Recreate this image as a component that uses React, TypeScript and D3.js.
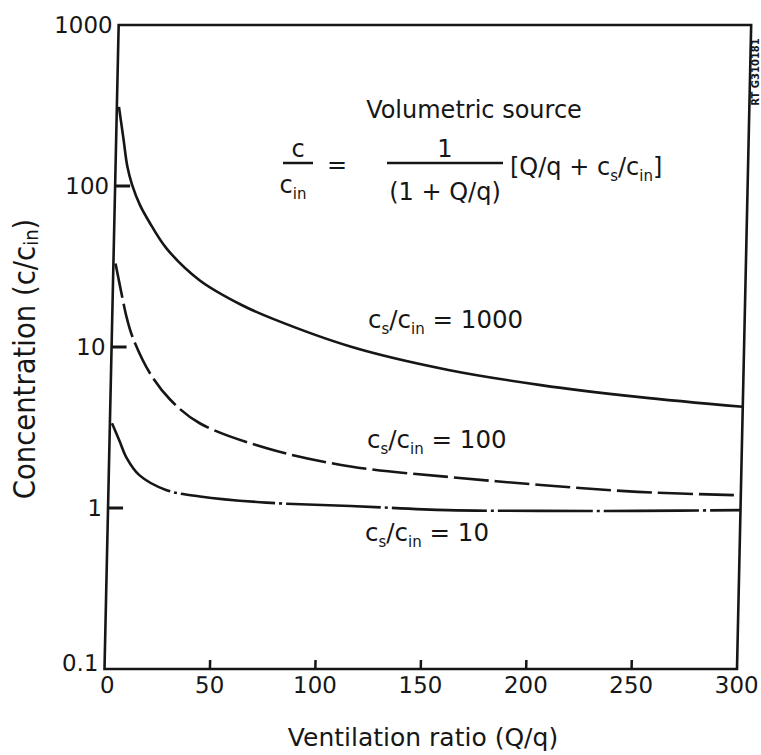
import React from "react";
import * as d3 from "d3";

// ---- data ----
const xTicks = [0, 50, 100, 150, 200, 250, 300];
const xTickLabels = ["0", "50", "100", "150", "200", "250", "300"];
const yTicks = [0.1, 1, 10, 100, 1000];
const yTickLabels = ["0.1", "1", "10", "100", "1000"];

// c_s/c_in = 1000 (solid)
const qq1000 = [1, 3.5, 5.6, 8, 12, 16.5, 25, 41, 61, 76, 114, 160, 204, 250, 300];
const c1000 = [310, 195, 132, 102, 76, 60, 41, 26, 18.3, 15.0, 10, 7.2, 5.8, 4.9, 4.25];
// c_s/c_in = 100 (dashed)
const qq100 = [1, 4.5, 7, 10, 18.4, 28.4, 42.6, 74.7, 114.6, 161, 205, 251, 300];
const c100 = [33, 20.5, 15, 11.4, 6.9, 4.7, 3.36, 2.35, 1.81, 1.56, 1.39, 1.26, 1.2];
// c_s/c_in = 10 (dash-dot)
const qq10 = [1, 4.8, 8, 14.5, 27.6, 43.5, 75, 115, 161, 205, 251, 300];
const c10 = [3.36, 2.6, 2.08, 1.6, 1.29, 1.18, 1.08, 1.03, 0.97, 0.96, 0.96, 0.97];

const FONT = "DejaVu Sans, Liberation Sans, sans-serif";
const INK = "#161616";

export default function App() {
  const W = 761;
  const H = 755;
  const left = 104.5;
  const right = 737;
  const top = 25;
  const bottom = 669;

  const x = d3.scaleLinear().domain([0, 300]).range([left, right]);
  const y = d3.scaleLog().domain([0.1, 1000]).range([bottom, top]);

  const line = d3
    .line<[number, number]>()
    .x((d) => x(d[0]))
    .y((d) => y(d[1]))
    .curve(d3.curveCatmullRom.alpha(0.5));

  const toPts = (a: number[], b: number[]) => a.map((v, i) => [v, b[i]] as [number, number]);

  const skew = `translate(0,${bottom}) skewX(-1.26) translate(0,${-bottom})`;

  return (
    <svg
      width={W}
      height={H}
      viewBox={`0 0 ${W} ${H}`}
      style={{ position: "absolute", left: 0, top: 0, background: "#fff" }}
      fontFamily={FONT}
    >
      <rect x={0} y={0} width={W} height={H} fill="#fff" />
      <g transform={skew}>
        {/* curves */}
        <path d={line(toPts(qq1000, c1000)) || ""} fill="none" stroke={INK} strokeWidth={2.6} />
        <path
          d={line(toPts(qq100, c100)) || ""}
          fill="none"
          stroke={INK}
          strokeWidth={2.6}
          strokeDasharray="35 6"
        />
        <path
          d={line(toPts(qq10, c10)) || ""}
          fill="none"
          stroke={INK}
          strokeWidth={2.6}
          strokeDasharray="95 4 3 4"
        />

        {/* frame */}
        <rect x={left} y={top} width={right - left} height={bottom - top} fill="none" stroke={INK} strokeWidth={2.6} />

        {/* y ticks */}
        {yTicks.map((t, i) => (
          <g key={"y" + i}>
            {t > 0.1 && t < 1000 && (
              <line x1={left} x2={left + 15} y1={y(t)} y2={y(t)} stroke={INK} strokeWidth={3} />
            )}
            <text
              x={left - 6}
              y={y(t) + 8.3 - (t === 0.1 ? 6 : 0)}
              textAnchor="end"
              fontSize={23}
              fill={INK}
            >
              {yTickLabels[i]}
            </text>
          </g>
        ))}

        {/* x ticks */}
        {xTicks.map((t, i) => (
          <g key={"x" + i}>
            {t > 0 && t < 300 && (
              <line x1={x(t)} x2={x(t)} y1={bottom} y2={bottom - 9} stroke={INK} strokeWidth={2.5} />
            )}
            <text x={x(t) + (t === 0 ? 3 : 0)} y={693} textAnchor="middle" fontSize={23} fill={INK}>
              {xTickLabels[i]}
            </text>
          </g>
        ))}
      </g>

      {/* axis titles */}
      <text x={423} y={746} textAnchor="middle" fontSize={25} fill={INK}>
        Ventilation ratio (Q/q)
      </text>
      <text
        transform="translate(25,359) rotate(-90) scale(1,1.08)"
        textAnchor="middle"
        dominantBaseline="central"
        fontSize={27.5}
        fill={INK}
      >
        Concentration (c/c<tspan dy={5} fontSize={18}>in</tspan>
        <tspan dy={-5}>)</tspan>
      </text>

      {/* annotation: formula */}
      <text x={474} y={118} textAnchor="middle" fontSize={24} fill={INK}>
        Volumetric source
      </text>
      <text x={298} y={157} textAnchor="middle" fontSize={24} fill={INK}>c</text>
      <line x1={283} x2={313} y1={163} y2={163} stroke={INK} strokeWidth={2.5} />
      <text x={293} y={193} textAnchor="middle" fontSize={24} fill={INK}>
        c<tspan dy={6} fontSize={15}>in</tspan>
      </text>
      <text x={337} y={173} textAnchor="middle" fontSize={24} fill={INK}>=</text>
      <text x={445} y={157} textAnchor="middle" fontSize={24} fill={INK}>1</text>
      <line x1={387} x2={503} y1={163} y2={163} stroke={INK} strokeWidth={2.5} />
      <text x={445} y={200} textAnchor="middle" fontSize={24} fill={INK}>(1 + Q/q)</text>
      <text x={510} y={175} fontSize={24} fill={INK}>
        [Q/q + c<tspan dy={6} fontSize={15}>s</tspan>
        <tspan dy={-6}>/c</tspan>
        <tspan dy={6} fontSize={15}>in</tspan>
        <tspan dy={-6}>]</tspan>
      </text>

      {/* curve labels */}
      <text x={368} y={328} fontSize={24.5} fill={INK}>
        c<tspan dy={6} fontSize={15}>s</tspan>
        <tspan dy={-6}>/c</tspan>
        <tspan dy={6} fontSize={15}>in</tspan>
        <tspan dy={-6}> = 1000</tspan>
      </text>
      <text x={367} y={448} fontSize={24.5} fill={INK}>
        c<tspan dy={6} fontSize={15}>s</tspan>
        <tspan dy={-6}>/c</tspan>
        <tspan dy={6} fontSize={15}>in</tspan>
        <tspan dy={-6}> = 100</tspan>
      </text>
      <text x={365} y={541} fontSize={24.5} fill={INK}>
        c<tspan dy={6} fontSize={15}>s</tspan>
        <tspan dy={-6}>/c</tspan>
        <tspan dy={6} fontSize={15}>in</tspan>
        <tspan dy={-6}> = 10</tspan>
      </text>

      {/* scan stamp at top right */}
      <text
        transform="translate(755,72) rotate(-90)"
        textAnchor="middle"
        dominantBaseline="central"
        fontSize={10}
        fontWeight="bold"
        fill={INK}
      >
        RT G310181
      </text>
    </svg>
  );
}
